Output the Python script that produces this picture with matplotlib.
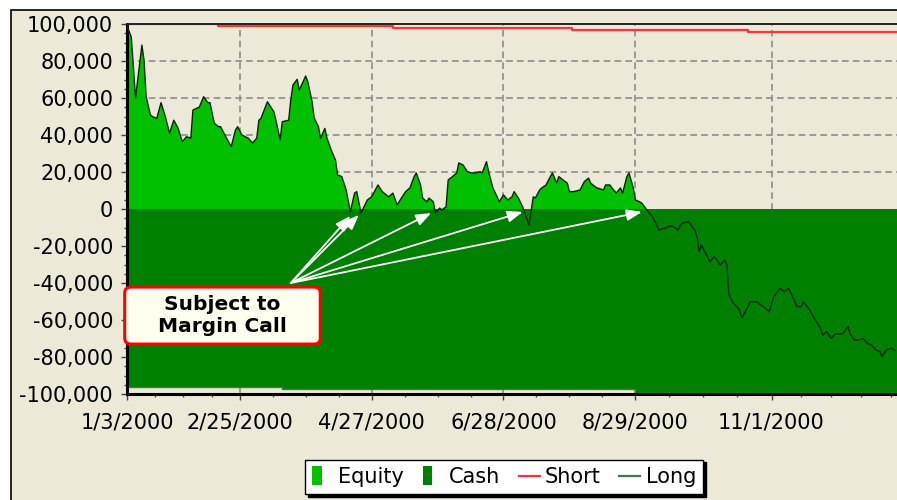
import matplotlib
matplotlib.use('Agg')
import matplotlib.pyplot as plt
import matplotlib.dates as mdates
from matplotlib.patches import Patch, Rectangle, FancyBboxPatch
from matplotlib.lines import Line2D
from matplotlib.legend_handler import HandlerPatch
from matplotlib.ticker import FuncFormatter, MultipleLocator, FixedLocator
import numpy as np
import pandas as pd

start = pd.Timestamp('2000-01-03')

# equity curve, sampled as calendar-day offsets from the start date
equity_days = [0, 2, 3, 4, 6, 7, 8, 9, 11, 12, 14, 16, 18, 20, 22, 24, 26, 28, 30,
               31, 33, 34, 36, 38, 39, 41, 43, 44, 46, 49, 51, 52, 54, 57, 59, 61,
               62, 63, 66, 69, 70, 72, 73, 76, 77, 78, 80, 81, 84, 85, 87, 88, 90,
               91, 93, 94, 96, 98, 99, 101, 103, 105, 107, 108, 110, 113, 115, 118,
               120, 123, 125, 127, 129, 131, 133, 135, 136, 138, 139, 141, 142, 144,
               145, 147, 148, 150, 151, 153, 155, 156, 158, 160, 162, 164, 166, 167,
               169, 170, 172, 174, 175, 177, 179, 181, 182, 184, 186, 187, 189, 191,
               192, 194, 195, 197, 199, 200, 202, 203, 205, 207, 208, 210, 213, 215,
               217, 218, 220, 221, 224, 225, 227, 228, 230, 232, 233, 235, 236, 238,
               239, 241, 242, 245, 247, 249, 250, 253, 255, 257, 259, 261, 264, 267,
               268, 269, 270, 272, 274, 276, 278, 279, 281, 282, 283, 285, 288, 289,
               292, 293, 296, 298, 300, 302, 304, 307, 309, 311, 314, 315, 317, 318,
               321, 323, 326, 327, 329, 331, 333, 336, 337, 339, 340, 342, 344, 346,
               348, 350, 352, 354, 355, 357, 359, 361]
equity = [99000, 93000, 77000, 60000, 79000, 88600, 80500, 60700, 50800, 49900,
          49000, 57500, 50000, 41000, 48000, 43700, 36400, 39100, 38300, 53500,
          54600, 55100, 60700, 57500, 57500, 46400, 44500, 44500, 40000, 33700,
          42700, 44500, 40000, 38300, 35700, 38300, 48000, 49000, 58000, 52600,
          48000, 37300, 47200, 48000, 58900, 67000, 70100, 64300, 71900, 68800,
          58000, 49200, 44500, 38200, 43600, 38300, 31900, 26500, 18400, 17500,
          10300, -1400, 8600, 9400, -2200, 4900, 6600, 13000, 9400, 6600, 8600,
          2200, 5900, 9400, 11400, 17500, 19500, 13000, 5900, 3900, 5900, 3900,
          -2200, 500, -500, 1200, 15700, 17500, 19500, 24900, 23800, 20200, 19500,
          19500, 20200, 19500, 25600, 20200, 11400, 6600, 3900, 7600, 4900, 6600,
          9400, 5900, 1200, -2200, -8600, 6600, 6000, 10300, 11400, 13000, 17500,
          19500, 14000, 17500, 15700, 14000, 9400, 9400, 10300, 14800, 16700,
          14000, 12100, 11400, 10300, 13000, 13000, 11400, 8600, 11400, 8600,
          17500, 19500, 11400, 4900, 3900, 3200, -1400, -4100, -8600, -11400,
          -10300, -9200, -9500, -11400, -7600, -6900, -11400, -15000, -23000,
          -19500, -23800, -28500, -25800, -28500, -30300, -27600, -30000, -46500,
          -50800, -54600, -58900, -52800, -50100, -50100, -51900, -53500, -55500,
          -47400, -42900, -44700, -42900, -50100, -52800, -52800, -50100, -54600,
          -58900, -64300, -68100, -66300, -69900, -67600, -67600, -66800, -63600,
          -67600, -70800, -70800, -69900, -72600, -73500, -76200, -77100, -79800,
          -76200, -75300, -76200]

short_days = [0, 43, 125, 209, 292, 365]
short = [100000, 99100, 97900, 96900, 95700, 95700]

long_days = [0, 73, 239, 365]
long_pos = [-96200, -97300, -99500, -99500]

# dips where equity touched zero
margin_days = [105, 109, 143, 186, 242]
margin_vals = [-3800, -3200, -2200, -1600, -1600]

tick_dates = ['2000-01-03', '2000-02-25', '2000-04-27', '2000-06-28', '2000-08-29', '2000-11-01']
tick_labels = ['1/3/2000', '2/25/2000', '4/27/2000', '6/28/2000', '8/29/2000', '11/1/2000']

x0 = mdates.date2num(start)
eq_x = x0 + np.array(equity_days)
eq = np.array(equity, dtype=float)

fig = plt.figure(figsize=(8.97, 5.0), dpi=100, facecolor='white')
fig.patches.append(Rectangle((11 / 897, -0.05), 1.0, 1.03, transform=fig.transFigure,
                             facecolor='#ECE9D8', edgecolor='black', lw=1.2, zorder=-10))

ax = fig.add_axes([127 / 897, 106 / 500, 770 / 897, 370 / 500])
ax.set_facecolor('#ECE9D8')
ax.set_axisbelow(True)

# cash band and equity area
ax.fill_between(x0 + np.array(long_days), long_pos, 0, step='post', color='#008000', lw=0, zorder=1)
ax.fill_between(eq_x, 0, eq, where=eq > 0, interpolate=True, color='#00C000', lw=0, zorder=1.2)
ax.plot(eq_x, eq, color='#062806', lw=1.0, zorder=3)
ax.plot(x0 + np.array(short_days), short, color='#FF3333', lw=1.6, drawstyle='steps-post', zorder=2)
ax.plot(x0 + np.array(long_days), long_pos, color='#3E7F3E', lw=1.0, drawstyle='steps-post', zorder=2)

ax.set_xlim(x0, x0 + 362)
ax.set_ylim(-100000, 100000)

major = [mdates.date2num(pd.Timestamp(d)) for d in tick_dates]
minor = []
for a, b in zip(major[:-1], major[1:]):
    minor += list(np.linspace(a, b, 5)[1:-1])
m = major[-1] + 14
while m < x0 + 362:
    minor.append(m)
    m += 14
ax.xaxis.set_major_locator(FixedLocator(major))
ax.xaxis.set_minor_locator(FixedLocator(minor))
ax.set_xticklabels(tick_labels)
ax.yaxis.set_major_locator(MultipleLocator(20000))
ax.yaxis.set_minor_locator(MultipleLocator(5000))
ax.yaxis.set_major_formatter(FuncFormatter(lambda v, p: f'{v:,.0f}'))

ax.tick_params(which='major', length=4, width=1, color='#404040', labelsize=15, labelcolor='black')
ax.tick_params(which='minor', length=2.5, width=1, color='#404040')
ax.tick_params(axis='x', pad=9)
ax.tick_params(axis='y', pad=6)

# dashed grid; the zero level is left out since it runs along the cash band edge
grid_style = dict(color='#8C8C8C', lw=1.2, linestyle=(0, (4, 2.5)), zorder=0.5)
ax.grid(True, axis='x', which='major', **grid_style)
for level in [80000, 60000, 40000, 20000, -20000, -40000, -60000, -80000]:
    ax.axhline(level, **grid_style)

for side in ['left', 'bottom']:
    ax.spines[side].set_linewidth(2.2)
    ax.spines[side].set_color('black')
ax.spines['top'].set_linewidth(1.4)
ax.spines['top'].set_color('#222222')
ax.spines['right'].set_visible(False)

# callout with arrows to the margin-call dips
for d, v in zip(margin_days, margin_vals):
    ax.annotate('', xy=(x0 + d, v), xytext=(x0 + 77, -40000),
                arrowprops=dict(arrowstyle='-|>,head_length=0.65,head_width=0.25', color='white',
                                lw=1.3, shrinkA=0, shrinkB=0, mutation_scale=14),
                zorder=6)

box = FancyBboxPatch((-0.003, 0.135), 0.254, 0.154, boxstyle='round,pad=0,rounding_size=0.008',
                     mutation_aspect=2.05, transform=ax.transAxes, facecolor='#FFFFF0',
                     edgecolor='#FF0000', lw=2.2, clip_on=False, zorder=7)
ax.add_patch(box)
ax.text(0.124, 0.212, 'Subject to\nMargin Call', transform=ax.transAxes, ha='center', va='center',
        fontsize=14.5, fontweight='bold', linespacing=1.2, zorder=8)


def narrow_box(legend, orig_handle, xdescent, ydescent, width, height, fontsize):
    return Rectangle((-xdescent, -ydescent - 1.5), 7, 13.5)


handles = [Patch(facecolor='#00C000'), Patch(facecolor='#008000'),
           Line2D([], [], color='#FF3333', lw=1.6), Line2D([], [], color='#3E7F3E', lw=1.6)]
leg = fig.legend(handles, ['Equity', 'Cash', 'Short', 'Long'], loc='center',
                 bbox_to_anchor=(504 / 897, 1 - 477 / 500), ncol=4, fontsize=15,
                 handlelength=1.0, handletextpad=0.25, columnspacing=0.9, borderpad=0.35,
                 fancybox=False, framealpha=1, edgecolor='black',
                 shadow={'color': 'black', 'alpha': 1.0},
                 handler_map={Patch: HandlerPatch(patch_func=narrow_box)})
leg.get_frame().set_linewidth(1.0)

fig.savefig('out.png', dpi=100, facecolor=fig.get_facecolor())
